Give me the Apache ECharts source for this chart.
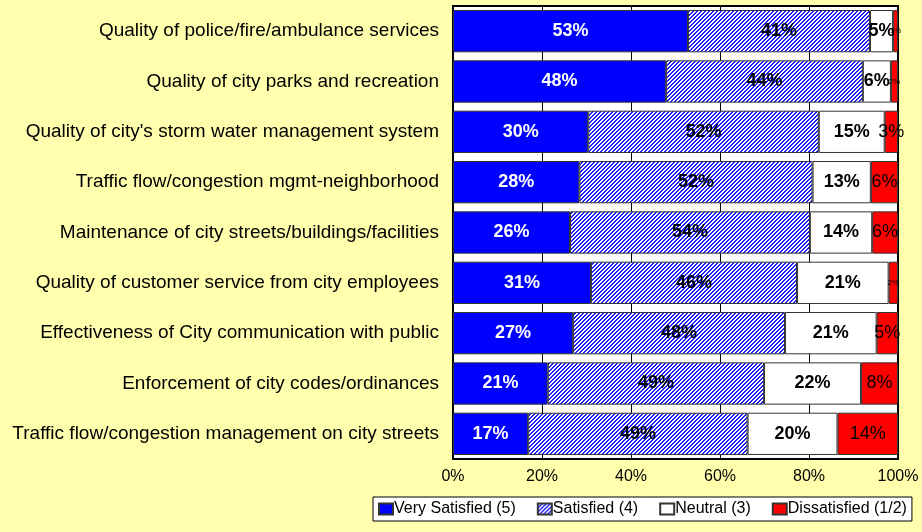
<!DOCTYPE html>
<html>
<head>
<meta charset="utf-8">
<script src="https://cdn.jsdelivr.net/npm/echarts@6/dist/echarts.min.js"></script>
<style>
    html, body { margin: 0; padding: 0; background: #ffffae; }
    #main { width: 922px; height: 532px; }
</style>
</head>
<body>
<div id="main"></div>
<script>
    var categories = [
        'Quality of police/fire/ambulance services',
        'Quality of city parks and recreation',
        "Quality of city's storm water management system",
        'Traffic flow/congestion mgmt-neighborhood',
        'Maintenance of city streets/buildings/facilities',
        'Quality of customer service from city employees',
        'Effectiveness of City communication with public',
        'Enforcement of city codes/ordinances',
        'Traffic flow/congestion management on city streets'
    ];
    var verySatisfied = [52.8, 47.9, 30.4, 28.4, 26.3, 31.0, 27.0, 21.3, 16.9];
    var satisfied     = [40.9, 44.2, 51.8, 52.4, 53.9, 46.3, 47.6, 48.6, 49.3];
    var neutral       = [5.2, 6.3, 14.8, 13.1, 14.0, 20.6, 20.6, 21.8, 20.2];
    var dissatisfied  = [1.1, 1.6, 3.0, 6.1, 5.8, 2.1, 4.8, 8.3, 13.6];
    var xTicks = [0, 20, 40, 60, 80, 100];

    // hatch pattern for "Satisfied"
    var hatch = document.createElement('canvas');
    hatch.width = 4;
    hatch.height = 4;
    var ctx = hatch.getContext('2d');
    ctx.fillStyle = '#ffffff';
    ctx.fillRect(0, 0, 4, 4);
    ctx.fillStyle = '#2020ff';
    for (var i = 0; i < 4; i++) {
        ctx.fillRect(i, 3 - i, 1, 1);
        ctx.fillRect(i, (4 - i) % 4, 1, 1);
    }

    var font = 'Liberation Sans, Arial, sans-serif';
    var pct = function (p) { return Math.round(p.value) + '%'; };

    function makeSeries(name, values, color, labelColor, weight) {
        return {
            name: name,
            type: 'bar',
            stack: 'total',
            barCategoryGap: '16%',
            itemStyle: { color: color, borderColor: '#333', borderWidth: 1 },
            label: {
                show: true, position: 'inside', formatter: pct,
                color: labelColor, fontWeight: weight, fontSize: 18, fontFamily: font
            },
            data: values.map(function (v) {
                if (v < 2.5) {
                    return { value: v, label: { fontSize: 8, fontWeight: 'normal' } };
                }
                return v;
            })
        };
    }

    var chart = echarts.init(document.getElementById('main'));
    var option = {
        backgroundColor: '#ffffae',
        animation: false,
        grid: {
            left: 453, right: 24, top: 6, bottom: 73,
            show: true, backgroundColor: '#ffffff', borderColor: '#000', borderWidth: 2
        },
        xAxis: {
            type: 'value',
            min: xTicks[0], max: xTicks[xTicks.length - 1], interval: 20,
            axisLine: { show: true, lineStyle: { color: '#000', width: 2 } },
            axisTick: { show: true, inside: true, length: 4, lineStyle: { color: '#000' } },
            splitLine: { show: true, lineStyle: { color: '#000', width: 1 } },
            axisLabel: { formatter: '{value}%', color: '#000', fontSize: 16, fontFamily: font, margin: 10 }
        },
        yAxis: {
            type: 'category',
            inverse: true,
            data: categories,
            axisLine: { show: true, lineStyle: { color: '#000', width: 2 } },
            axisTick: { show: false },
            axisLabel: { color: '#000', fontSize: 19, fontFamily: font, margin: 14 }
        },
        legend: {
            left: 373, top: 497, width: 600,
            backgroundColor: '#fff', borderColor: '#000', borderWidth: 1,
            padding: [4, 5], itemGap: 21, itemWidth: 14, itemHeight: 11,
            icon: 'rect',
            textStyle: { color: '#000', fontSize: 16, fontFamily: font, padding: [0, 0, 0, -4] },
            data: ['Very Satisfied (5)', 'Satisfied (4)', 'Neutral (3)', 'Dissatisfied (1/2)']
        },
        series: [
            makeSeries('Very Satisfied (5)', verySatisfied, '#0000ff', '#fff', 'bold'),
            makeSeries('Satisfied (4)', satisfied, { image: hatch, repeat: 'repeat' }, '#000', 'bold'),
            makeSeries('Neutral (3)', neutral, '#ffffff', '#000', 'bold'),
            makeSeries('Dissatisfied (1/2)', dissatisfied, '#ff0000', '#000', 'normal')
        ]
    };
    chart.setOption(option);
</script>
</body>
</html>
